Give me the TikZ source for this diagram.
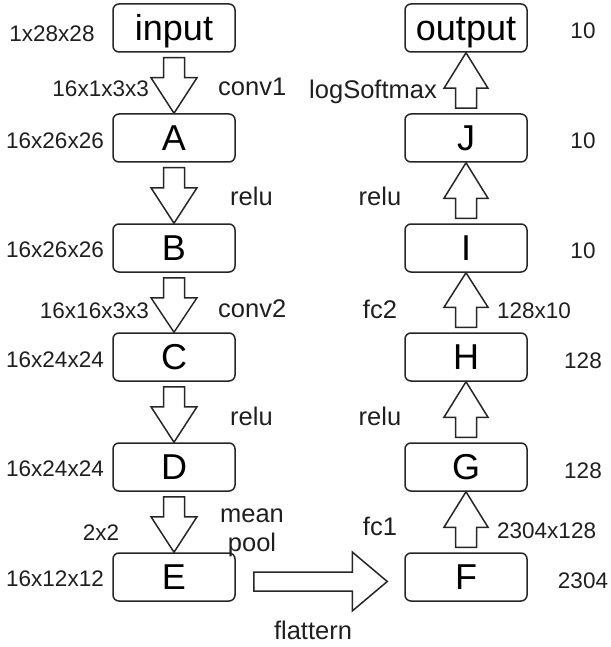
\documentclass[tikz,border=0pt]{standalone}
\usepackage{fontspec}
\setmainfont{Liberation Sans}
\usetikzlibrary{calc}
\begin{document}
\begin{tikzpicture}[x=1pt,y=1pt,
  box/.style={draw=black!85, line width=1.5pt, rounded corners=6pt, minimum width=122pt, minimum height=48pt, inner sep=0pt, font=\fontsize{36}{40}\selectfont, text height=25.8pt, text depth=0pt},
  lbl/.style={inner sep=0pt, font=\fontsize{22.5}{27}\selectfont, text=black!88, text height=16.1pt, text depth=0pt},
  lblw/.style={inner sep=0pt, font=\fontsize{25.5}{30}\selectfont, text=black!88, text height=19.5pt, text depth=0pt},
  blk/.style={draw=black!85, line width=1.5pt, fill=white, line join=miter}]
\useasboundingbox (0,0) rectangle (610,-647);
% left column
\node[box] (input) at (174,-28) {input};
\node[box] (A) at (174,-138) {A};
\node[box] (B) at (174,-248) {B};
\node[box] (C) at (174,-357) {C};
\node[box] (D) at (174,-467) {D};
\node[box] (E) at (174,-577) {E};
% right column
\node[box] (output) at (466,-28) {output};
\node[box] (J) at (466,-138) {J};
\node[box] (I) at (466,-248) {I};
\node[box] (H) at (466,-357) {H};
\node[box] (G) at (466,-467) {G};
\node[box] (F) at (466,-577) {F};
% block arrows
\newcommand\blkdown[2]{\draw[blk] let \p1=(#1.south), \p2=(#2.north) in
  (\x1-10.5pt,\y1-5pt) -- (\x1-10.5pt,\y1-25pt) -- (\x1-23pt,\y1-25pt) -- (\x1,\y2)
  -- (\x1+23pt,\y1-25pt) -- (\x1+10.5pt,\y1-25pt) -- (\x1+10.5pt,\y1-5pt) -- cycle;}
\newcommand\blkup[2]{\draw[blk] let \p1=(#1.north), \p2=(#2.south) in
  (\x1-10.5pt,\y1+5pt) -- (\x1-10.5pt,\y1+25pt) -- (\x1-22pt,\y1+25pt) -- (\x1,\y2)
  -- (\x1+22pt,\y1+25pt) -- (\x1+10.5pt,\y1+25pt) -- (\x1+10.5pt,\y1+5pt) -- cycle;}
\blkdown{input}{A}
\blkdown{A}{B}
\blkdown{B}{C}
\blkdown{C}{D}
\blkdown{D}{E}
\blkup{F}{G}
\blkup{G}{H}
\blkup{H}{I}
\blkup{I}{J}
\blkup{J}{output}
\draw[blk] let \p1=(E.east), \p2=(F.west) in
  (\x1+18pt,\y1+5pt) -- (\x2-52pt,\y1+5pt) -- (\x2-52pt,\y1+25pt) -- (\x2-17pt,\y1-4.5pt)
  -- (\x2-52pt,\y1-34pt) -- (\x2-52pt,\y1-14pt) -- (\x1+18pt,\y1-14pt) -- cycle;
% left labels
\node[lbl] (l0) at (52,-33) {1x28x28};
\node[lbl,anchor=east] (l1) at (149,-88) {16x1x3x3};
\node[lblw,anchor=west] (l2) at (218,-86) {conv1};
\node[lbl,anchor=east] (l3) at (104,-140) {16x26x26};
\node[lblw,anchor=west] (l4) at (230,-196) {relu};
\node[lbl,anchor=east] (l5) at (104,-249) {16x26x26};
\node[lbl,anchor=east] (l6) at (149,-310) {16x16x3x3};
\node[lblw,anchor=west] (l7) at (218,-308) {conv2};
\node[lbl,anchor=east] (l8) at (104,-359) {16x24x24};
\node[lblw,anchor=west] (l9) at (230,-416) {relu};
\node[lbl,anchor=east] (l10) at (104,-468) {16x24x24};
\node[lbl] (l11) at (101,-532) {2x2};
\node[lblw] (l12) at (252,-513) {mean};
\node[lblw] (l13) at (252,-542) {pool};
\node[lbl,anchor=east] (l14) at (104,-578) {16x12x12};
\node[lblw] (l15) at (313,-630) {flattern};
% right labels
\node[lbl] (r0) at (583,-30) {10};
\node[lblw,anchor=east] (r1) at (437,-89) {logSoftmax};
\node[lbl] (r2) at (583,-140) {10};
\node[lblw] (r3) at (380,-196) {relu};
\node[lbl] (r4) at (583,-250) {10};
\node[lblw] (r5) at (380,-309) {fc2};
\node[lbl,anchor=west] (r6) at (497,-310) {128x10};
\node[lbl] (r7) at (583,-360) {128};
\node[lblw] (r8) at (380,-416) {relu};
\node[lbl] (r9) at (583,-470) {128};
\node[lblw] (r10) at (380,-526) {fc1};
\node[lbl,anchor=west] (r11) at (497,-530) {2304x128};
\node[lbl] (r12) at (583,-580) {2304};
\end{tikzpicture}
\end{document}
